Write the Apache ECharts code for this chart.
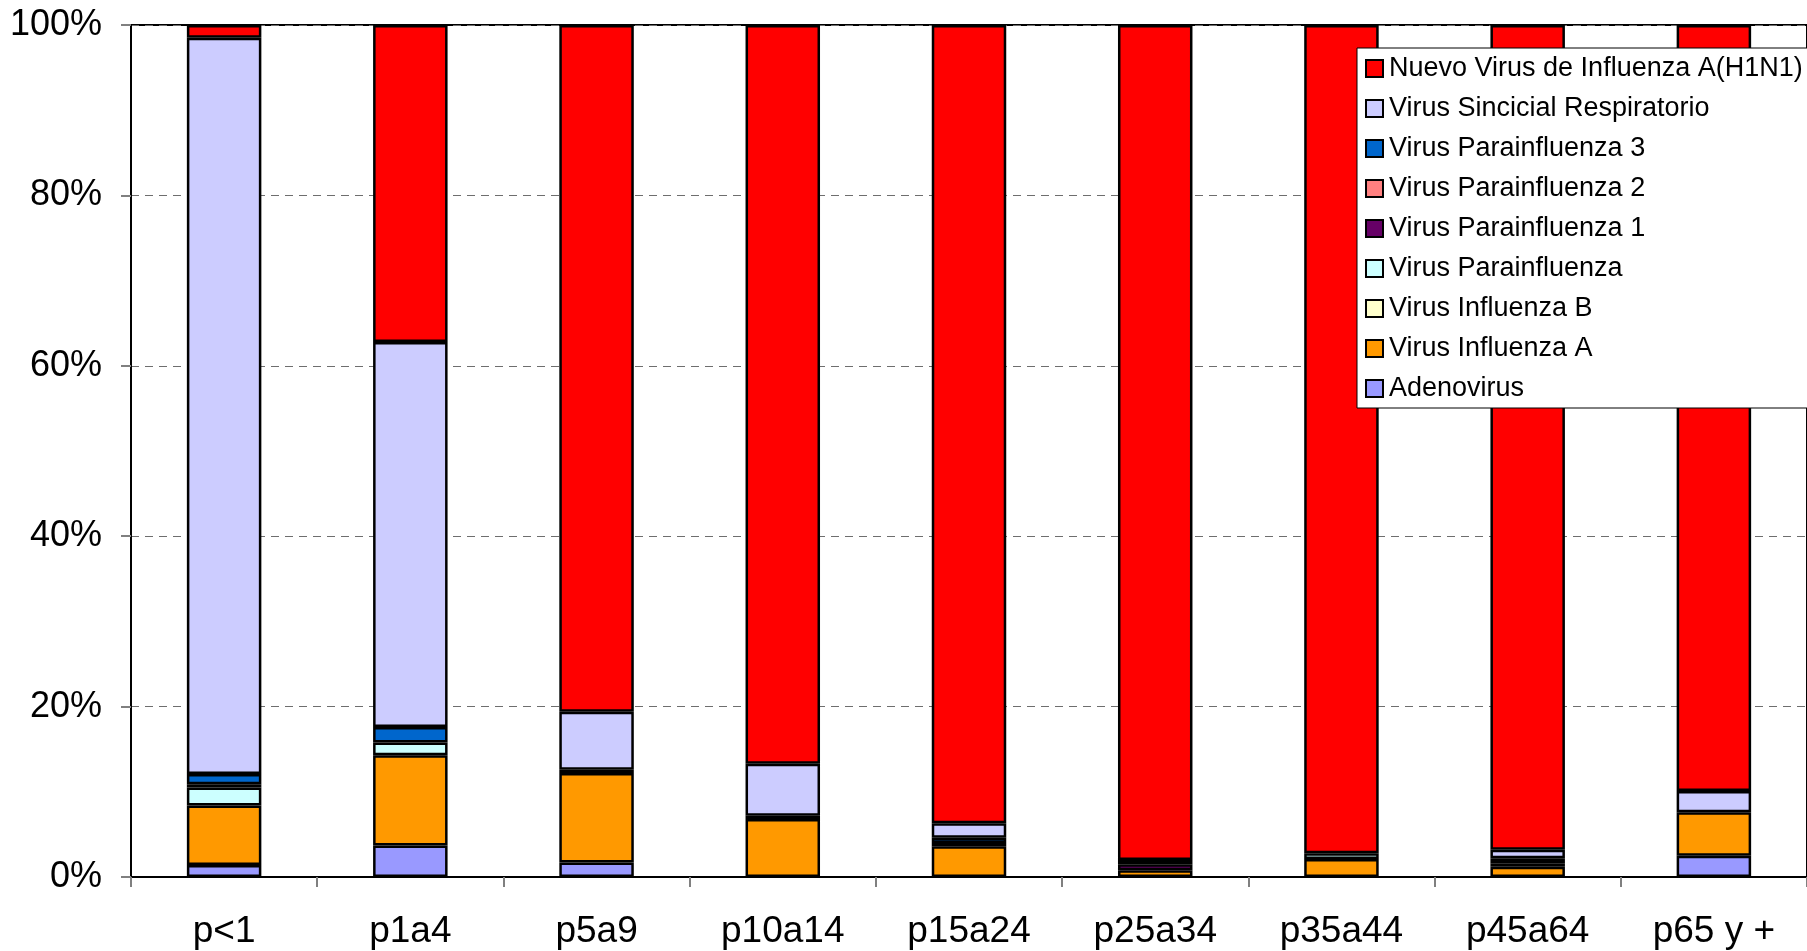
<!DOCTYPE html>
<html>
<head>
<meta charset="utf-8">
<style>
  html, body { margin: 0; padding: 0; background: #fff; }
  #chart { width: 1807px; height: 951px; }
</style>
<script src="https://cdn.jsdelivr.net/npm/echarts@6/dist/echarts.min.js"></script>
</head>
<body>
<div id="chart"></div>
<script>
// Age groups
const categories = ['p<1', 'p1a4', 'p5a9', 'p10a14', 'p15a24', 'p25a34', 'p35a44', 'p45a64', 'p65 y +'];

// Share of positive samples per virus (%), stacked bottom to top
const adenovirus     = [1.4, 3.7, 1.7, 0,   0,   0,   0,   0,   2.5];
const influenzaA     = [7.0, 10.6, 10.5, 6.8, 3.6, 0.8, 2.1, 1.2, 5.1];
const influenzaB     = [0,   0,   0,   0,   0,   0,   0,   0.4, 0];
const parainfluenza  = [2.1, 1.5, 0,   0.4, 0,   0,   0.7, 0,   0];
const parainfluenza1 = [0.4, 0,   0.4, 0,   0.4, 0.7, 0,   0.6, 0];
const parainfluenza2 = [0,   0,   0,   0,   0,   0.5, 0,   0,   0];
const parainfluenza3 = [1.2, 1.8, 0,   0,   0.6, 0,   0,   0,   0];
const sincicial      = [86.4, 45.2, 6.8, 6.1, 1.7, 0,   0,   1.0, 2.5];
const h1n1           = [1.5, 37.2, 80.6, 86.7, 93.7, 98.0, 97.2, 96.8, 89.9];

const yTicks = [0, 20, 40, 60, 80, 100];

const stackDefs = [
  { name: 'Adenovirus', data: adenovirus, color: '#9999FF' },
  { name: 'Virus Influenza A', data: influenzaA, color: '#FF9900' },
  { name: 'Virus Influenza B', data: influenzaB, color: '#FFFFCC' },
  { name: 'Virus Parainfluenza', data: parainfluenza, color: '#CCFFFF' },
  { name: 'Virus Parainfluenza 1', data: parainfluenza1, color: '#660066' },
  { name: 'Virus Parainfluenza 2', data: parainfluenza2, color: '#FF8080' },
  { name: 'Virus Parainfluenza 3', data: parainfluenza3, color: '#0066CC' },
  { name: 'Virus Sincicial Respiratorio', data: sincicial, color: '#CCCCFF' },
  { name: 'Nuevo Virus de Influenza A(H1N1)', data: h1n1, color: '#FF0000' }
];

const FONT = "'Liberation Sans', Arial, sans-serif";

const chart = echarts.init(document.getElementById('chart'), null, { renderer: 'canvas' });

chart.setOption({
  animation: false,
  backgroundColor: '#fff',
  textStyle: { fontFamily: FONT },
  grid: {
    left: 131, top: 25, right: 0, bottom: 74,
    show: true, borderColor: '#000', borderWidth: 2, backgroundColor: 'transparent'
  },
  legend: {
    orient: 'vertical',
    left: 1357, top: 48,
    backgroundColor: '#fff',
    borderColor: '#000', borderWidth: 1,
    padding: [7, 40, 6, 8],
    itemWidth: 17, itemHeight: 17, itemGap: 13,
    icon: 'rect',
    itemStyle: { borderColor: '#000', borderWidth: 2 },
    textStyle: { fontFamily: FONT, fontSize: 27, color: '#000', padding: [0, 0, 0, 1] },
    data: stackDefs.map(s => s.name).reverse()
  },
  xAxis: {
    type: 'category',
    data: categories,
    boundaryGap: true,
    axisLine: { lineStyle: { color: '#000', width: 2 } },
    axisTick: { show: true, alignWithLabel: false, length: 10, lineStyle: { color: '#808080', width: 2 } },
    axisLabel: { fontFamily: FONT, fontSize: 37, color: '#000', margin: 36 },
    splitLine: { show: false }
  },
  yAxis: {
    type: 'value',
    min: yTicks[0], max: yTicks[yTicks.length - 1], interval: yTicks[1] - yTicks[0],
    axisLine: { show: true, lineStyle: { color: '#000', width: 2 } },
    axisTick: { show: true, length: 10, lineStyle: { color: '#808080', width: 2 } },
    axisLabel: { fontFamily: FONT, fontSize: 36, color: '#000', margin: 29, formatter: '{value}%' },
    splitLine: { show: true, lineStyle: { color: '#6e6e6e', width: 1.2, type: [8, 6] } }
  },
  series: stackDefs.map(s => ({
    name: s.name,
    type: 'bar',
    stack: 'total',
    barWidth: '40%',
    itemStyle: { color: s.color, borderColor: '#000', borderWidth: 2.5 },
    emphasis: { disabled: true },
    data: s.data.map(v => (v === 0 ? '-' : v))
  }))
});
</script>
</body>
</html>
